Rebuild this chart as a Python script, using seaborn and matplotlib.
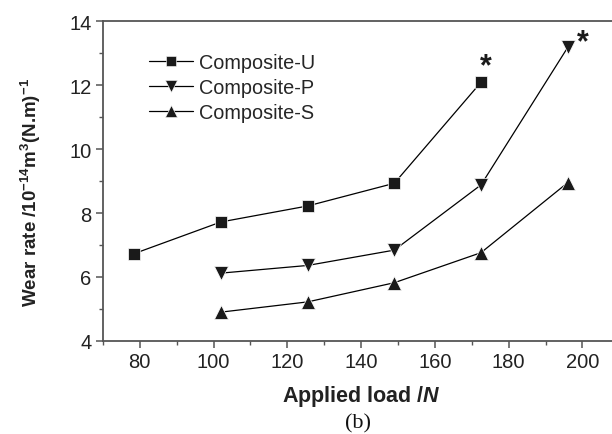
import matplotlib
matplotlib.use("Agg")
import matplotlib.pyplot as plt
import seaborn as sns
import pandas as pd
from matplotlib.ticker import MultipleLocator

sns.set_theme(style="ticks")
plt.rcParams['font.family'] = ['Liberation Sans', 'DejaVu Sans']
plt.rcParams['mathtext.fontset'] = 'custom'
plt.rcParams['mathtext.rm'] = 'Liberation Sans:bold'
plt.rcParams['mathtext.it'] = 'Liberation Sans:italic:bold'
plt.rcParams['mathtext.bf'] = 'Liberation Sans:bold'
plt.rcParams['mathtext.default'] = 'rm'

series_names = ["Composite-U", "Composite-P", "Composite-S"]
load_U = [78.5, 102, 125.5, 149, 172.5]
wear_U = [6.73, 7.72, 8.22, 8.93, 12.09]
load_P = [102, 125.5, 149, 172.5, 196]
wear_P = [6.12, 6.36, 6.84, 8.88, 13.18]
load_S = [102, 125.5, 149, 172.5, 196]
wear_S = [4.90, 5.22, 5.82, 6.76, 8.95]
star_series = ["Composite-U", "Composite-P"]

frames = []
for name, xs, ys in zip(series_names, [load_U, load_P, load_S], [wear_U, wear_P, wear_S]):
    frames.append(pd.DataFrame({"load": xs, "wear": ys, "series": name}))
df = pd.concat(frames, ignore_index=True)

fig = plt.figure(figsize=(6.12, 4.35), dpi=100)
ax = fig.add_axes([0.168, 0.214, 0.832, 0.735])

markers = {"Composite-U": "s", "Composite-P": "v", "Composite-S": "^"}
sizes = {"Composite-U": 8, "Composite-P": 9.5, "Composite-S": 9.5}
for name in series_names:
    sub = df[df["series"] == name]
    sns.lineplot(data=sub, x="load", y="wear", ax=ax, color="black", lw=0.9,
                 marker=markers[name], markersize=sizes[name],
                 markeredgecolor="white", markeredgewidth=0.5,
                 markerfacecolor="#1a1a1a", label=name, legend=False, sort=False)

# asterisks marking last points
for name, dx, dy in zip(star_series, [1.2, 4.0], [0.5, 0.15]):
    sub = df[df["series"] == name]
    x, y = sub["load"].iloc[-1], sub["wear"].iloc[-1]
    ax.text(x + dx, y + dy, "*", ha="center", va="center", fontsize=22,
            fontweight="bold", color="#1a1a1a")

ax.set_xlim(70, 208)
ax.set_ylim(4, 14)
ax.xaxis.set_major_locator(MultipleLocator(20))
ax.xaxis.set_minor_locator(MultipleLocator(10))
ax.yaxis.set_major_locator(MultipleLocator(2))
ax.yaxis.set_minor_locator(MultipleLocator(1))

spine_color = "#555555"
for s in ["left", "bottom", "top"]:
    ax.spines[s].set_color(spine_color)
    ax.spines[s].set_linewidth(1.3)
ax.spines["right"].set_visible(False)
ax.tick_params(axis="both", which="major", direction="out", length=5, width=1.1,
               color=spine_color, labelsize=14.5, labelcolor="#222222", pad=3)
ax.tick_params(axis="both", which="minor", direction="out", length=3, width=1.0,
               color=spine_color)
ax.tick_params(top=False, right=False)

ax.set_xlabel("Applied load /$\\mathit{N}$", fontsize=15.5, fontweight="bold",
              color="#222222")
ax.xaxis.set_label_coords((362 - 103) / 509, -(384 - 342) / 320, transform=ax.transAxes)
ax.set_ylabel("Wear rate /10$^{-14}$m$^{3}$(N.m)$^{-1}$", fontsize=13.5,
              fontweight="bold", color="#222222")
ax.yaxis.set_label_coords(-(103 - 43) / 509, (342 - 192) / 320, transform=ax.transAxes)

handles = [plt.Line2D([], [], color="black", lw=0.9, marker=markers[n],
                      markersize=sizes[n] * 0.85, markerfacecolor="#1a1a1a",
                      markeredgecolor="white", markeredgewidth=0.4)
           for n in series_names]
ax.legend(handles, series_names, loc="upper left", bbox_to_anchor=(0.075, 0.925),
          frameon=False, fontsize=14.3, handlelength=2.2, handletextpad=0.3,
          labelspacing=0.3, borderaxespad=0)

fig.text(358 / 612, 1 - 424 / 435, "(b)", ha="center", va="center",
         fontsize=16, family=["Liberation Serif", "DejaVu Serif"], color="#111111")

fig.savefig("out.png", dpi=100)
